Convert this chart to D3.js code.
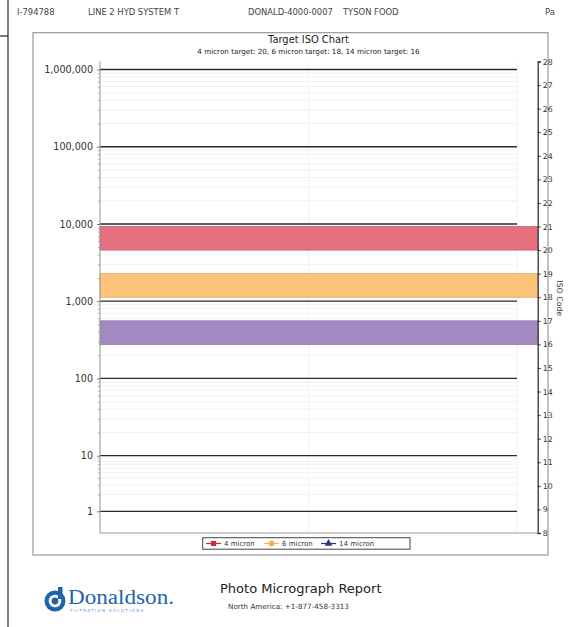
<!DOCTYPE html>
<html>
<head>
<meta charset="utf-8">
<script src="https://cdn.jsdelivr.net/npm/d3@7"></script>
<style>
    body { margin: 0; background: #fff; }
    svg { display: block; font-family: "DejaVu Sans", sans-serif; }
</style>
</head>
<body>
<div id="chart"></div>
<script>
(function () {
    "use strict";

    // values
    const countTicks = [1, 10, 100, 1000, 10000, 100000, 1000000];
    const isoTicks = [8, 9, 10, 11, 12, 13, 14, 15, 16, 17, 18, 19, 20, 21, 22, 23, 24, 25, 26, 27, 28];
    const sizes = ["4 micron", "6 micron", "14 micron"];
    const targets = [20, 18, 16];
    const bandColors = ["#e6707e", "#fdc479", "#a28ac0"];
    const markerColors = ["#d9252f", "#fcae4f", "#2b3a7a"];
    const headerTexts = ["I-794788", "LINE 2 HYD SYSTEM T", "DONALD-4000-0007", "TYSON FOOD", "Pa"];

    const width = 569, height = 627;
    const plot = { left: 100, right: 537.7, gridRight: 517, top: 61.5, bottom: 533 };

    let svg = d3.select("#chart").append("svg")
        .attr("width", width).attr("height", height);

    // page frame
    svg.append("line").attr("x1", 8).attr("x2", 8).attr("y1", 0).attr("y2", height)
        .attr("stroke", "#222").attr("stroke-width", 1.2);
    svg.append("line").attr("x1", 0).attr("x2", 8).attr("y1", 36).attr("y2", 36)
        .attr("stroke", "#222").attr("stroke-width", 1.2);

    // header line
    const headerX = [17, 88, 248, 343, 545];
    svg.append("g").selectAll("text")
        .data(headerTexts)
        .enter().append("text")
        .attr("x", (d, i) => headerX[i])
        .attr("y", 15)
        .attr("font-size", 8.4)
        .attr("fill", "#444")
        .text(d => d);

    // chart box
    svg.append("rect")
        .attr("x", 33).attr("y", 32.7)
        .attr("width", 515).attr("height", 522.3)
        .attr("fill", "none").attr("stroke", "#999").attr("stroke-width", 1.2);

    let isoY = d3.scaleLinear().domain([8, 28]).range([plot.bottom, plot.top]);
    // the count axis is log, but the bottom decade is squeezed in the original
    let countY = d3.scaleLog().domain([1, 10, 1000000]).range([511.3, 455.7, 69.5]);
    let x = d3.scaleLinear().domain([0, 2]).range([plot.left, plot.gridRight]);

    let minorTicks = [];
    countTicks.slice(0, -1).forEach(t => {
        for (let k = 2; k <= 9; k++) minorTicks.push(t * k);
    });

    let g = svg.append("g");

    // faint vertical grid
    g.selectAll(".vgrid")
        .data(x.ticks(2))
        .enter().append("line")
        .attr("x1", d => x(d)).attr("x2", d => x(d))
        .attr("y1", plot.top).attr("y2", plot.bottom)
        .attr("stroke", "#ededed").attr("stroke-width", 0.8);

    // minor horizontal grid
    g.selectAll(".minor")
        .data(minorTicks)
        .enter().append("line")
        .attr("x1", plot.left).attr("x2", plot.gridRight)
        .attr("y1", d => countY(d)).attr("y2", d => countY(d))
        .attr("stroke", "#efefef").attr("stroke-width", 0.8);

    // target bands, one ISO code high
    g.selectAll(".band")
        .data(targets)
        .enter().append("rect")
        .attr("x", plot.left)
        .attr("width", plot.right - plot.left)
        .attr("y", d => isoY(d + 1))
        .attr("height", d => isoY(d) - isoY(d + 1))
        .attr("fill", (d, i) => bandColors[i])
        .attr("stroke", (d, i) => d3.color(bandColors[i]).darker(0.4))
        .attr("stroke-width", 0.8);

    // major horizontal grid
    g.selectAll(".major")
        .data(countTicks)
        .enter().append("line")
        .attr("x1", plot.left).attr("x2", plot.gridRight)
        .attr("y1", d => countY(d)).attr("y2", d => countY(d))
        .attr("stroke", "#2a2a2a").attr("stroke-width", 1.3);

    // plot frame (left and bottom)
    g.append("path")
        .attr("d", `M${plot.left},${plot.top}V${plot.bottom}H${plot.right}`)
        .attr("fill", "none").attr("stroke", "#9a9a9a").attr("stroke-width", 1);

    // left count axis
    let leftAxis = svg.append("g")
        .attr("transform", `translate(${plot.left},0)`)
        .call(d3.axisLeft(countY).tickValues(countTicks)
            .tickFormat(d3.format(",")).tickSize(3).tickPadding(4));
    leftAxis.select(".domain").remove();
    leftAxis.selectAll("line").attr("stroke", "#777");
    leftAxis.selectAll("text").attr("font-size", 9.6).attr("fill", "#333")
        .attr("font-family", "DejaVu Sans");

    let minorAxis = svg.append("g")
        .attr("transform", `translate(${plot.left},0)`)
        .call(d3.axisLeft(countY).tickValues(minorTicks).tickFormat("").tickSize(2));
    minorAxis.select(".domain").remove();
    minorAxis.selectAll("line").attr("stroke", "#aaa");

    // right ISO code axis
    let rightAxis = svg.append("g")
        .attr("transform", `translate(${plot.right},0)`)
        .call(d3.axisRight(isoY).tickValues(isoTicks).tickSize(3).tickPadding(2));
    rightAxis.select(".domain").attr("stroke", "#333").attr("stroke-width", 1.3);
    rightAxis.selectAll("line").attr("stroke", "#333");
    rightAxis.selectAll("text").attr("font-size", 7.8).attr("fill", "#333")
        .attr("font-family", "DejaVu Sans");

    svg.append("text")
        .attr("transform", `translate(557,${(plot.top + plot.bottom) / 2 + 1}) rotate(90)`)
        .attr("text-anchor", "middle")
        .attr("font-size", 7.8).attr("fill", "#333")
        .text("ISO Code");

    // titles
    let cx = (plot.left + plot.gridRight) / 2;
    svg.append("text")
        .attr("x", cx).attr("y", 43)
        .attr("text-anchor", "middle")
        .attr("font-size", 9.9).attr("fill", "#222")
        .text("Target ISO Chart");
    svg.append("text")
        .attr("x", cx).attr("y", 54)
        .attr("text-anchor", "middle")
        .attr("font-size", 7.2).attr("fill", "#222")
        .text(sizes.map((s, i) => `${s} target: ${targets[i]}`).join(", "));

    // legend
    const legendX = [206, 264, 321];
    let legend = svg.append("g");
    legend.append("rect")
        .attr("x", 202.7).attr("y", 537.7)
        .attr("width", 207.3).attr("height", 11.5)
        .attr("fill", "#fff").attr("stroke", "#444").attr("stroke-width", 1);
    let symbols = [d3.symbolSquare, d3.symbolCircle, d3.symbolTriangle];
    let items = legend.selectAll(".item")
        .data(sizes)
        .enter().append("g")
        .attr("transform", (d, i) => `translate(${legendX[i]},543.5)`);
    items.append("line")
        .attr("x1", 0).attr("x2", 15)
        .attr("stroke", (d, i) => markerColors[i]).attr("stroke-width", 1.2);
    items.append("path")
        .attr("transform", "translate(7.5,0)")
        .attr("d", (d, i) => d3.symbol(symbols[i], 26)())
        .attr("fill", (d, i) => markerColors[i]);
    items.append("text")
        .attr("x", 18).attr("y", 2.5)
        .attr("font-size", 7).attr("fill", "#333")
        .text(d => d);

    // footer: logo and report name
    let logo = svg.append("g").attr("transform", "translate(55,601)");
    logo.append("circle").attr("r", 10.5).attr("fill", "#1f63a8");
    logo.append("circle").attr("r", 6.3).attr("fill", "#fff");
    logo.append("circle").attr("r", 3.4).attr("fill", "#1f63a8");
    logo.append("rect").attr("x", 3).attr("y", -14).attr("width", 4.5)
        .attr("height", 12).attr("fill", "#1f63a8");
    svg.append("text")
        .attr("x", 68).attr("y", 603.5)
        .attr("font-family", "Liberation Serif, serif")
        .attr("font-size", 20.5).attr("fill", "#1f63a8")
        .attr("textLength", 106)
        .attr("lengthAdjust", "spacingAndGlyphs")
        .text("Donaldson.");
    svg.append("text")
        .attr("x", 70).attr("y", 612)
        .attr("font-size", 4).attr("fill", "#5b8fc4")
        .attr("letter-spacing", 1.4)
        .text("FILTRATION SOLUTIONS");

    svg.append("text")
        .attr("x", 220).attr("y", 593)
        .attr("font-size", 13).attr("fill", "#222")
        .text("Photo Micrograph Report");
    svg.append("text")
        .attr("x", 228).attr("y", 609)
        .attr("font-size", 7.2).attr("fill", "#333")
        .text("North America:  +1-877-458-3313");
})();
</script>
</body>
</html>
